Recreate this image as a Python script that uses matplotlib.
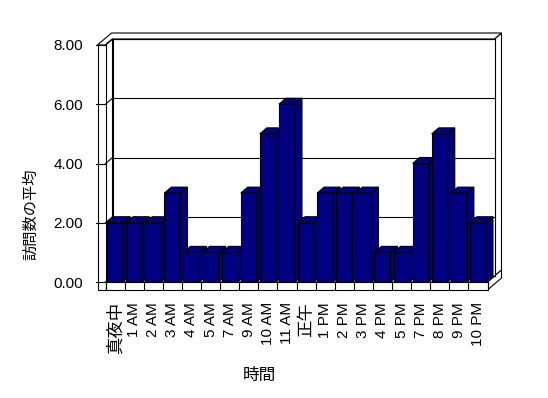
import matplotlib
matplotlib.use("Agg")
import matplotlib.pyplot as plt
from matplotlib.patches import Polygon

# --------------------------------------------------
# Data
# --------------------------------------------------
hours = ["真夜中", "1 AM", "2 AM", "3 AM", "4 AM", "5 AM", "7 AM", "9 AM",
         "10 AM", "11 AM", "正午", "1 PM", "2 PM", "3 PM", "4 PM", "5 PM",
         "7 PM", "8 PM", "9 PM", "10 PM"]
avg_visits = [2, 2, 2, 3, 1, 1, 1, 3, 5, 6, 2, 3, 3, 3, 1, 1, 4, 5, 3, 2]
y_ticks = [0, 2, 4, 6, 8]
y_tick_labels = ["0.00", "2.00", "4.00", "6.00", "8.00"]

plt.rcParams["font.family"] = ["Liberation Sans", "Noto Sans CJK JP"]

# --------------------------------------------------
# Layout (pixels of the front plane)
# --------------------------------------------------
W, H = 548, 398
left, right, bottom, top = 105.5, 487.5, 282, 45
navy = "#000080"
lw = 0.8

fig = plt.figure(figsize=(W / 100, H / 100), dpi=100)
ax = fig.add_axes([left / W, 1 - bottom / H, (right - left) / W, (bottom - top) / H])

n = len(hours)
ymax = y_ticks[-1]
x0, x1 = -0.5, n - 0.5
ax.set_xlim(x0, x1)
ax.set_ylim(0, ymax)

# depth / thickness offsets in data units
dx = 7 * n / (right - left)
dy = 6 * ymax / (bottom - top)
wx = 8 * n / (right - left)
fy = 8 * ymax / (bottom - top)


def face(pts, fc="white", z=1):
    ax.add_patch(Polygon(pts, closed=True, facecolor=fc, edgecolor="black",
                         lw=lw, clip_on=False, zorder=z))


def seg(xs, ys, z=1.5):
    ax.plot(xs, ys, color="black", lw=lw, clip_on=False, zorder=z)


# --------------------------------------------------
# Walls and floor
# --------------------------------------------------
face([(x1 + dx, dy), (x1 + 2 * dx, 2 * dy), (x1 + 2 * dx, ymax + 2 * dy), (x1 + dx, ymax + dy)])
face([(x1, 0), (x1 + 2 * dx, 2 * dy), (x1 + 2 * dx, 2 * dy - fy), (x1, -fy)])
face([(x0 + dx, dy), (x1 + dx, dy), (x1 + dx, ymax + dy), (x0 + dx, ymax + dy)])
face([(x0 - wx, ymax), (x0, ymax), (x0 + dx, ymax + dy), (x1 + dx, ymax + dy),
      (x1 + 2 * dx, ymax + 2 * dy), (x0 - wx + 2 * dx, ymax + 2 * dy)])
face([(x0, 0), (x0 + dx, dy), (x0 + dx, ymax + dy), (x0, ymax)])
face([(x0, 0), (x1, 0), (x1 + dx, dy), (x0 + dx, dy)])
face([(x0 - wx, -fy), (x0, -fy), (x0, ymax), (x0 - wx, ymax)])
face([(x0, -fy), (x1, -fy), (x1, 0), (x0, 0)])

for v in y_ticks:
    seg([x0 + dx, x1 + dx], [v + dy, v + dy])
    seg([x0, x0 + dx], [v, v + dy])
    seg([x0 - wx - 0.1, x0], [v, v])

for i in range(n + 1):
    seg([x0 + i, x0 + i], [-fy, 0])

# --------------------------------------------------
# Bars
# --------------------------------------------------
bw = 0.84
bars = ax.bar(range(n), avg_visits, width=bw, color=navy, edgecolor="black", lw=lw)
for i, (rect, v) in enumerate(zip(bars, avg_visits)):
    z = 3 + 0.1 * i
    rect.set_zorder(z)
    l, r = i - bw / 2, i + bw / 2
    face([(r, 0), (r + dx, dy), (r + dx, v + dy), (r, v)], fc=navy, z=z + 0.05)
    face([(l, v), (r, v), (r + dx, v + dy), (l + dx, v + dy)], fc=navy, z=z + 0.05)

# --------------------------------------------------
# Ticks and labels
# --------------------------------------------------
ax.set_xticks(range(n), hours, rotation=90, fontsize=11)
ax.set_yticks(y_ticks, y_tick_labels, fontsize=11)
ax.tick_params(axis="x", length=0, pad=14.4)
ax.tick_params(axis="y", length=0, pad=16)
# the kanji labels are drawn larger in the original
for lab in ax.get_xticklabels():
    if not lab.get_text()[0].isascii():
        lab.set_fontsize(12.5)
for s in ax.spines.values():
    s.set_visible(False)
ax.patch.set_visible(False)

fig.text(259 / W, 1 - 375 / H, "時間", ha="center", va="center", fontsize=12)
fig.text(31 / W, 1 - 214 / H, "訪問数の平均", ha="center", va="center",
         rotation=90, fontsize=11)

fig.savefig("out.png", dpi=100)
